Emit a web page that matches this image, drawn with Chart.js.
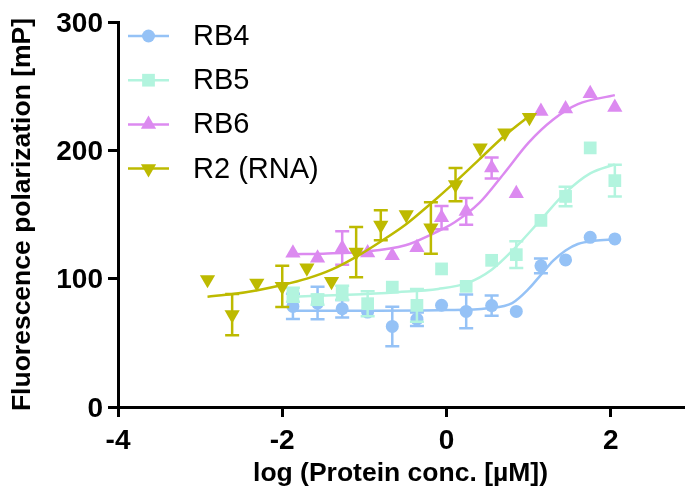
<!DOCTYPE html>
<html>
<head>
<meta charset="utf-8">
<script src="https://cdn.jsdelivr.net/npm/chart.js@4/dist/chart.umd.min.js"></script>
<style>
  html, body { margin: 0; padding: 0; background: #fff; }
  #wrap { width: 686px; height: 491px; position: relative; }
</style>
</head>
<body>
<div id="wrap"><canvas id="fpChart"></canvas></div>
<script>
// log concentrations (µM)
const xRB = [-1.87, -1.57, -1.27, -0.96, -0.66, -0.36, -0.06, 0.24, 0.55, 0.85, 1.15, 1.45, 1.75, 2.05];
const xR2 = [-2.91, -2.61, -2.31, -2.0, -1.7, -1.4, -1.1, -0.8, -0.49, -0.19, 0.11, 0.41, 0.71, 1.01];

// measured FP values (mP) and SD
const rb4Y   = [78.4, 81, 76.6, 74, 62.8, 68.4, 79.3, 74.5, 79, 74.5, 110, 114.6, 132.2, 131];
const rb4Err = [9.8, 12.7, 6.8, 0, 15.4, 5.2, 0, 13.2, 7.8, 0, 5.8, 0, 0, 0];
const rb5Y   = [87.5, 83.6, 88.9, 80.5, 93.4, 79.2, 107.6, 94, 114.3, 118.7, 145.4, 164.1, 201.9, 176.4];
const rb5Err = [5.5, 4, 5.5, 9.7, 0, 12.8, 0, 0, 0, 10.4, 0, 7.6, 0, 12.4];
const rb6Y   = [120, 116.1, 123.9, 120.1, 117.9, 124.2, 147.6, 152.5, 186.3, 166.3, 230.4, 232.3, 244.2, 233.5];
const rb6Err = [0, 0, 13, 0, 0, 0, 9, 10.4, 8.2, 0, 0, 0, 0, 0];
const r2Y    = [99.3, 72, 96.6, 94, 108.3, 97.9, 120.7, 141.7, 149.9, 139.5, 173.3, 201.9, 213.6, 225.7];
const r2Err  = [0, 16, 0, 16, 0, 0, 19.6, 11.7, 0, 20, 13, 0, 0, 0];

// fitted curves
const fitRB4X = [-1.87, -1.0, 0.0, 0.5, 0.8, 1.0, 1.15, 1.3, 1.45, 1.6, 1.8, 2.05];
const fitRB4Y = [75, 75, 75.5, 77, 81, 92, 103, 114, 122, 127, 129.5, 130.5];
const fitRB5X = [-1.87, -1.2, -0.6, -0.1, 0.25, 0.55, 0.85, 1.15, 1.45, 1.75, 2.05];
const fitRB5Y = [86, 87.5, 89.5, 92, 96.5, 107, 125, 146, 167, 182, 189];
const fitRB6X = [-1.87, -1.5, -1.0, -0.5, -0.2, 0.1, 0.4, 0.7, 1.0, 1.3, 1.6, 2.05];
const fitRB6Y = [119, 119.5, 121, 126, 134, 144, 159, 182, 206, 224, 236, 243];
const fitR2X  = [-2.91, -2.6, -2.3, -2.0, -1.7, -1.4, -1.1, -0.8, -0.5, -0.2, 0.1, 0.4, 0.7, 1.01];
const fitR2Y  = [86, 88, 91, 95, 100, 107, 117, 129, 142, 158, 175, 193, 211, 227];

const seriesNames = ['RB4', 'RB5', 'RB6', 'R2 (RNA)'];
const xTickValues = [-4, -2, 0, 2];
const yTickValues = [0, 100, 200, 300];

const colors = ['#95c2f6', '#b2f4de', '#dc8af0', '#bdba00'];
const markers = [
  { pointStyle: 'circle',   radius: 6.5, rotation: 0 },
  { pointStyle: 'rect',     radius: 9,   rotation: 0 },
  { pointStyle: 'triangle', radius: 8.8, rotation: 0 },
  { pointStyle: 'triangle', radius: 8.8, rotation: 180 }
];
const FONT = "'Liberation Sans', Arial, sans-serif";

const pts = (xs, ys) => xs.map((x, i) => ({ x, y: ys[i] }));

function pointSet(i, xs, ys, errs, order){
  const m = markers[i];
  return {
    label: seriesNames[i],
    data: pts(xs, ys),
    errors: errs,
    showLine: false,
    backgroundColor: colors[i],
    borderColor: colors[i],
    borderWidth: 0,
    pointStyle: m.pointStyle,
    pointRadius: m.radius,
    pointRotation: m.rotation,
    pointHoverRadius: m.radius,
    clip: false,
    order
  };
}
function fitSet(i, xs, ys, order){
  return {
    label: seriesNames[i] + ' fit',
    data: pts(xs, ys),
    showLine: true,
    borderColor: colors[i],
    backgroundColor: colors[i],
    borderWidth: 2.5,
    pointRadius: 0,
    tension: 0.4,
    cubicInterpolationMode: 'monotone',
    order
  };
}

// error bars, drawn just before the owning dataset
const errorBars = {
  id: 'errorBars',
  beforeDatasetDraw(chart, args){
    const ds = chart.data.datasets[args.index];
    if(!ds.errors) return;
    const xs = chart.scales.x, ys = chart.scales.y, ctx = chart.ctx;
    ctx.save();
    ctx.strokeStyle = ds.borderColor;
    ctx.lineWidth = 2.5;
    ds.data.forEach((p, k) => {
      const e = ds.errors[k];
      if(!e) return;
      const px = xs.getPixelForValue(p.x);
      const top = ys.getPixelForValue(p.y + e);
      const bot = ys.getPixelForValue(p.y - e);
      ctx.beginPath();
      ctx.moveTo(px, top); ctx.lineTo(px, bot);
      ctx.moveTo(px - 7, top); ctx.lineTo(px + 7, top);
      ctx.moveTo(px - 7, bot); ctx.lineTo(px + 7, bot);
      ctx.stroke();
    });
    ctx.restore();
  }
};

// Prism-like legend: line sample with marker, top-left inside plot
const fpLegend = {
  id: 'fpLegend',
  afterDraw(chart){
    const ctx = chart.ctx;
    const x0 = chart.chartArea.left + 10;
    ctx.save();
    seriesNames.forEach((name, i) => {
      const y = 36 + i * 44.2;
      ctx.strokeStyle = colors[i];
      ctx.lineWidth = 2.5;
      ctx.beginPath();
      ctx.moveTo(x0, y); ctx.lineTo(x0 + 41, y);
      ctx.stroke();
      ctx.fillStyle = colors[i];
      Chart.helpers.drawPoint(ctx, {
        pointStyle: markers[i].pointStyle,
        radius: markers[i].radius,
        rotation: markers[i].rotation,
        borderWidth: 0
      }, x0 + 20.5, y);
      ctx.fillStyle = '#000';
      ctx.font = '29px ' + FONT;
      ctx.textBaseline = 'middle';
      ctx.textAlign = 'left';
      ctx.fillText(name, x0 + 65, y + 1);
    });
    ctx.restore();
  }
};

const axisGrid = {
  drawOnChartArea: false,
  drawTicks: true,
  tickLength: 10,
  tickWidth: 3,
  lineWidth: 3,
  color: '#000'
};

new Chart(document.getElementById('fpChart'), {
  type: 'scatter',
  data: {
    datasets: [
      fitSet(0, fitRB4X, fitRB4Y, 8),
      pointSet(0, xRB, rb4Y, rb4Err, 7),
      fitSet(1, fitRB5X, fitRB5Y, 6),
      pointSet(1, xRB, rb5Y, rb5Err, 5),
      fitSet(2, fitRB6X, fitRB6Y, 4),
      pointSet(2, xRB, rb6Y, rb6Err, 3),
      fitSet(3, fitR2X, fitR2Y, 2),
      pointSet(3, xR2, r2Y, r2Err, 1)
    ]
  },
  options: {
    responsive: true,
    maintainAspectRatio: false,
    animation: false,
    devicePixelRatio: 1,
    layout: { autoPadding: false, padding: { top: 22, right: 3, left: 0, bottom: 0 } },
    plugins: { legend: { display: false }, tooltip: { enabled: false } },
    scales: {
      x: {
        type: 'linear',
        min: -4, max: 2.88,
        afterBuildTicks: s => { s.ticks = xTickValues.map(v => ({ value: v })); },
        afterFit: s => { s.height = 84; },
        border: { display: true, width: 3, color: '#000' },
        grid: axisGrid,
        ticks: { color: '#000', padding: 7, maxRotation: 0, font: { family: FONT, size: 28, weight: 'bold' } },
        title: {
          display: true,
          text: 'log (Protein conc. [µM])',
          color: '#000',
          padding: { top: 0, bottom: 1 },
          font: { family: FONT, size: 26.5, weight: 'bold' }
        }
      },
      y: {
        type: 'linear',
        min: 0, max: 300,
        afterBuildTicks: s => { s.ticks = yTickValues.map(v => ({ value: v })); },
        afterFit: s => { s.width = 118; },
        border: { display: true, width: 3, color: '#000' },
        grid: axisGrid,
        ticks: { color: '#000', padding: 5, labelOffset: 2, font: { family: FONT, size: 28, weight: 'bold' } },
        title: {
          display: true,
          text: 'Fluorescence polarization [mP]',
          color: '#000',
          padding: { top: 7, bottom: 0 },
          font: { family: FONT, size: 26.5, weight: 'bold' }
        }
      }
    }
  },
  plugins: [errorBars, fpLegend]
});
</script>
</body>
</html>
